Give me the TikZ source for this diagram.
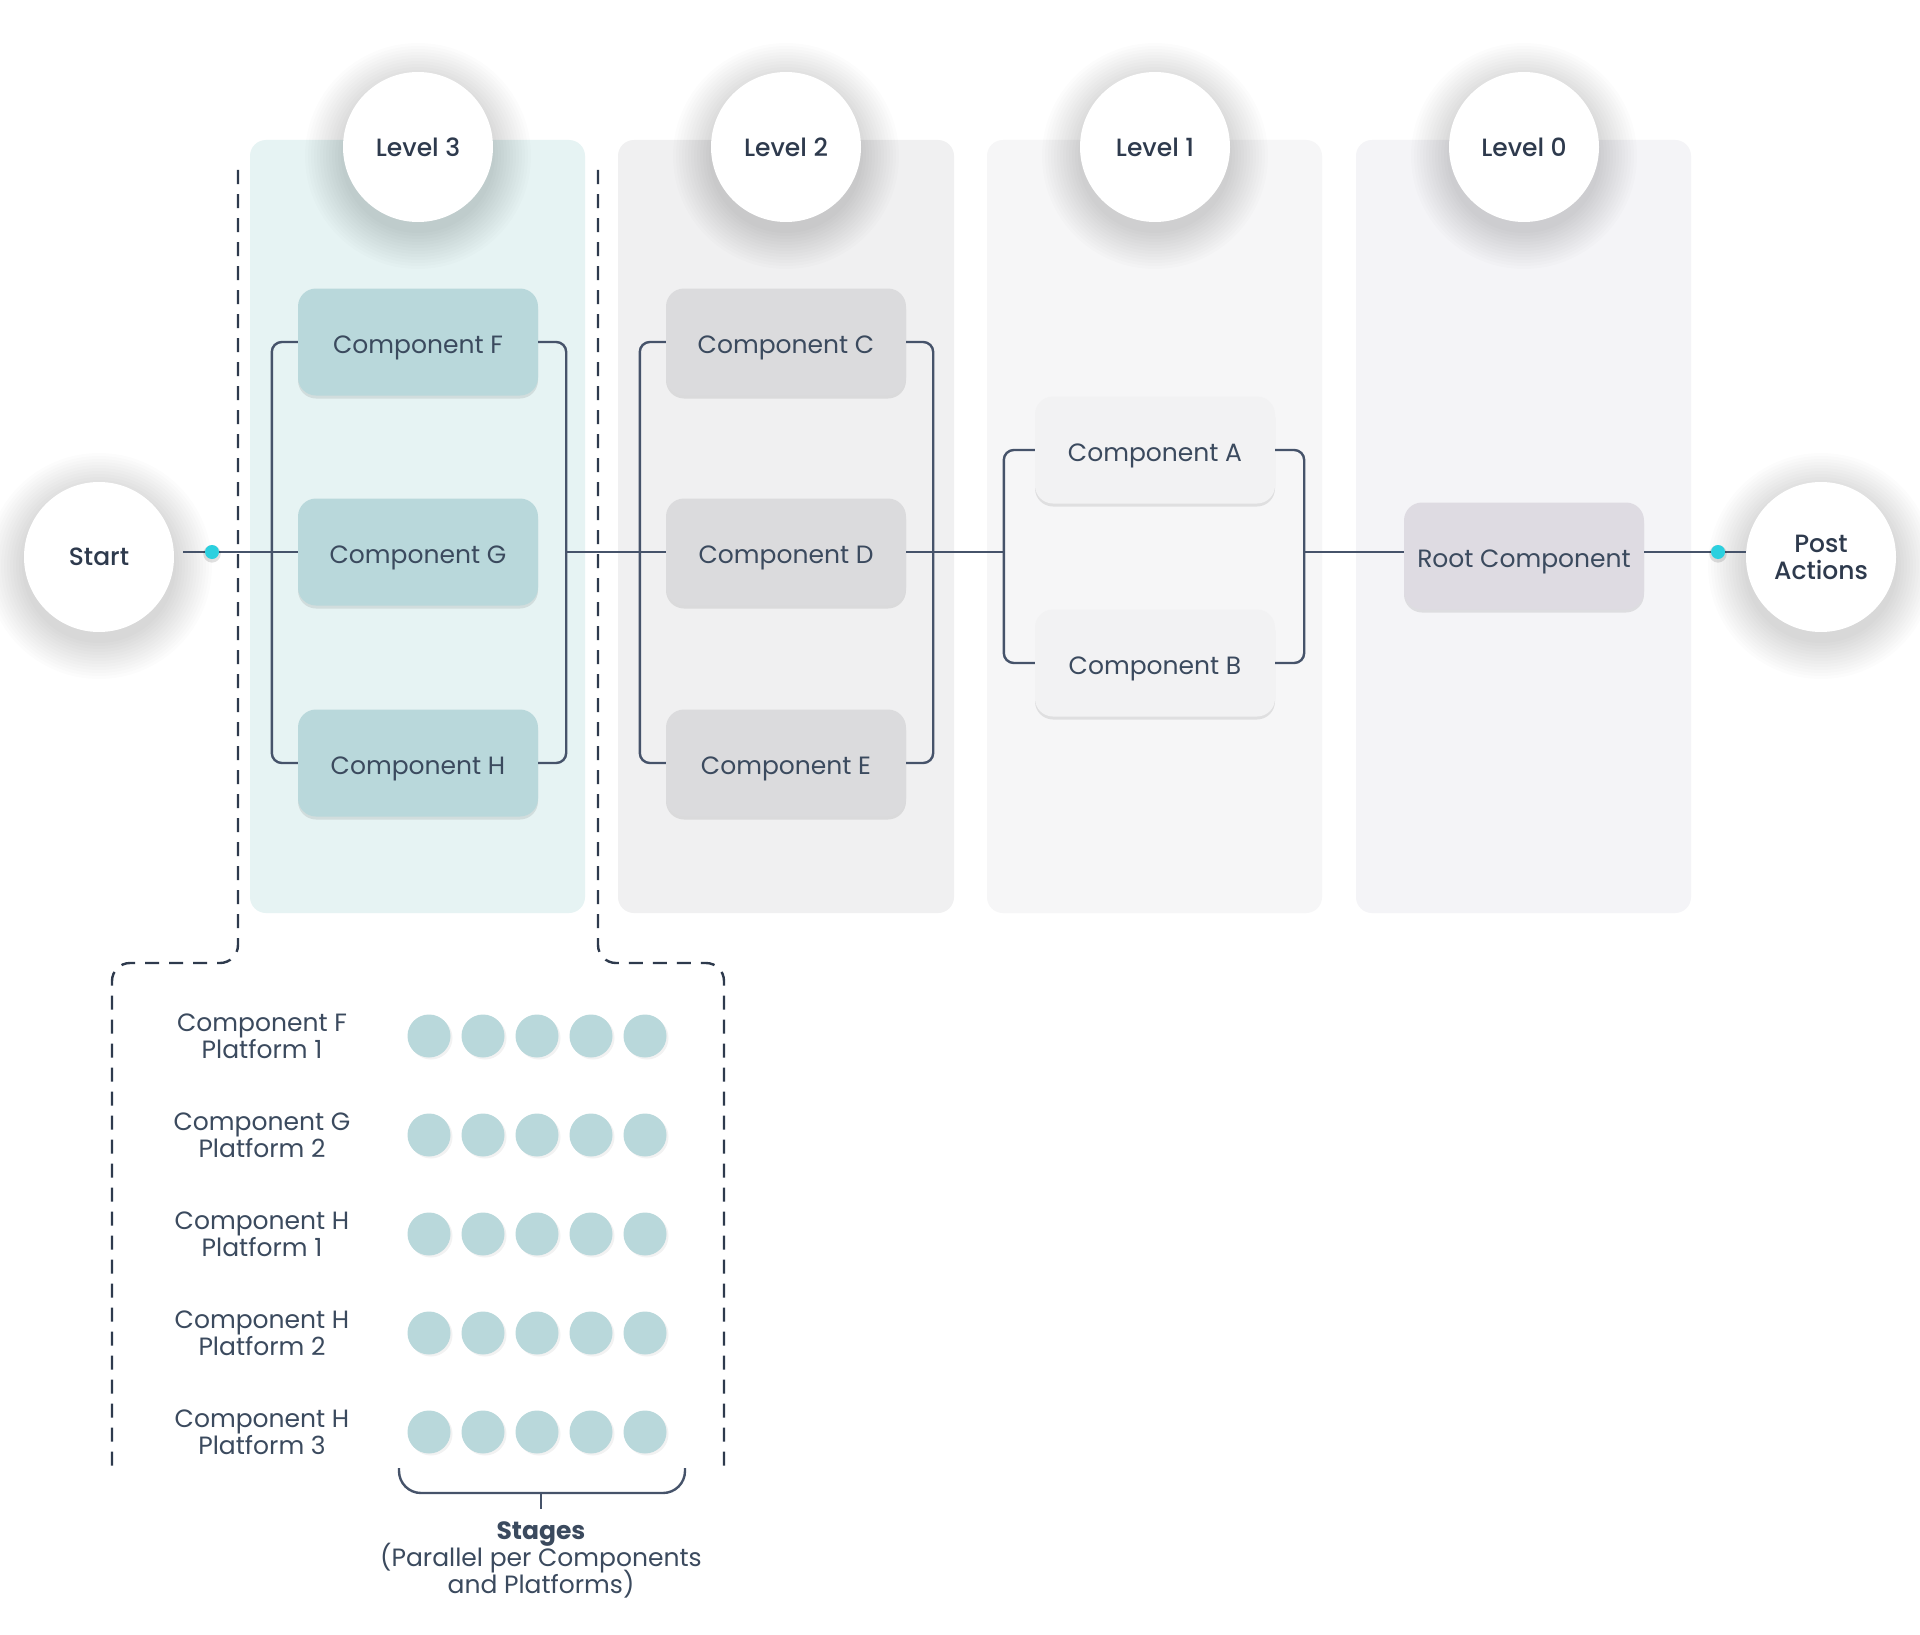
\documentclass[tikz,border=0pt]{standalone}
\usepackage{fontspec}
\setmainfont{Poppins}
\IfFontExistsTF{Poppins Medium}{\newfontfamily\medfont{Poppins Medium}}{\newfontfamily\medfont{Poppins}}
\usetikzlibrary{shadows}
\definecolor{txt}{HTML}{3B4A5E}
\definecolor{txtdark}{HTML}{2E3A4D}
\definecolor{linec}{HTML}{46536A}
\definecolor{panelthree}{HTML}{E6F3F3}
\definecolor{boxthree}{HTML}{B9D8DB}
\definecolor{paneltwo}{HTML}{F0F0F1}
\definecolor{boxtwo}{HTML}{DBDBDD}
\definecolor{panelone}{HTML}{F6F6F7}
\definecolor{boxone}{HTML}{F2F2F3}
\definecolor{panelzero}{HTML}{F4F4F7}
\definecolor{boxzero}{HTML}{DEDBE2}
\definecolor{cyanc}{HTML}{2BD0DF}
\newcommand{\fs}{\fontsize{25}{27}\selectfont\lineskiplimit=-30pt\relax}
\newcommand{\softshadow}[2]{\foreach \r in {77,80,...,113}{\fill[black, opacity=0.011] (#1,#2+9) circle[radius=\r];}}
\begin{document}
\begin{tikzpicture}[x=1pt,y=-1pt,
  panel/.style={fill=#1, rounded corners=16},
  comp/.style={rounded corners=18, minimum width=240, minimum height=107, inner sep=0,
    text=txt, font=\fs, fill=#1, text height=23pt, text depth=0pt,
    general shadow={shadow xshift=0pt, shadow yshift=-3pt, fill=black, opacity=0.09}},
  lvl/.style={circle, fill=white, minimum size=150, inner sep=0, align=center,
    font=\medfont\fs, text=txtdark},
  conn/.style={draw=linec, line width=2.4pt},
  dashc/.style={draw=txtdark, line width=2.4pt, dash pattern=on 14pt off 10pt, rounded corners=18},
  cdot/.style={circle, fill=cyanc, minimum size=14, inner sep=0,
    general shadow={shadow scale=1.25, shadow xshift=0pt, shadow yshift=-1.5pt, fill=black, opacity=0.12}},
  sdot/.style={circle, fill=boxthree, minimum size=43, inner sep=0,
    general shadow={shadow xshift=2pt, shadow yshift=-2pt, fill=black, opacity=0.05}},
  lab/.style={align=center, font=\fs, text=txt, inner sep=0}
]
\useasboundingbox[fill=white] (0,0) rectangle (1920,1635);

% panels
\path[panel=panelthree] (250,140) rectangle (585,913);
\path[panel=paneltwo] (618,140) rectangle (954,913);
\path[panel=panelone] (987,140) rectangle (1322,913);
\path[panel=panelzero] (1356,140) rectangle (1691,913);

% dashed callout
\draw[dashc] (238,170) -- (238,963) -- (112,963) -- (112,1469);
\draw[dashc] (598,170) -- (598,963) -- (724,963) -- (724,1469);

% components
\node[comp=boxthree] (F) at (418,342) {Component F};
\node[comp=boxthree] (G) at (418,552) {Component G};
\node[comp=boxthree] (H) at (418,763) {Component H};
\node[comp=boxtwo] (C) at (786,342) {Component C};
\node[comp=boxtwo] (D) at (786,552) {Component D};
\node[comp=boxtwo] (E) at (786,763) {Component E};
\node[comp=boxone] (A) at (1155,450) {Component A};
\node[comp=boxone] (B) at (1155,663) {Component B};
\node[comp=boxzero] (R) at (1524,556) {Root Component};

% soft shadows of the circles
\softshadow{418}{147}
\softshadow{786}{147}
\softshadow{1155}{147}
\softshadow{1524}{147}
\softshadow{99}{557}
\softshadow{1821}{557}

% level circles
\node[lvl] (L3) at (418,147) {Level 3};
\node[lvl] (L2) at (786,147) {Level 2};
\node[lvl] (L1) at (1155,147) {Level 1};
\node[lvl] (L0) at (1524,147) {Level 0};

% start / post
\node[lvl] (S) at (99,557) {Start};
\node[lvl] (P) at (1821,557) {Post\\Actions};

% coordinates
\coordinate (s0) at (183,552);
\coordinate (b3r) at (567,552);
\coordinate (b1l) at (1004,552);
\coordinate (b1r) at (1305,552);
\coordinate (pe) at (1746,552);

% brackets
\draw[conn, rounded corners=10] (F.west) -- ++(-26,0) |- (H.west);
\draw[conn, rounded corners=10] (F.east) -- ++(28,0) |- (H.east);
\draw[conn, rounded corners=10] (C.west) -- ++(-26,0) |- (E.west);
\draw[conn, rounded corners=10] (C.east) -- ++(27,0) |- (E.east);
\draw[conn, rounded corners=10] (A.west) -- ++(-31,0) |- (B.west);
\draw[conn, rounded corners=10] (A.east) -- ++(29,0) |- (B.east);

% main line
\draw[conn] (s0) -- (G.west);
\draw[conn] (b3r) -- (D.west);
\draw[conn] (D.east) -- (b1l);
\draw[conn] (b1r) -- (b1r -| R.west);
\draw[conn] (b1r -| R.east) -- (pe);

% dots
\node[cdot] (d1) at (212,552) {};
\node[cdot] (d2) at (1718,552) {};

% stage rows
\foreach \i/\t/\yy in {1/{Component F\\Platform 1}/1036, 2/{Component G\\Platform 2}/1135, 3/{Component H\\Platform 1}/1234, 4/{Component H\\Platform 2}/1333, 5/{Component H\\Platform 3}/1432}{
  \node[lab] (lab\i) at (262,\yy) {\t};
  \foreach \j/\xx in {1/429, 2/483, 3/537, 4/591, 5/645}{
    \node[sdot] (s\i\j) at (\xx,\yy) {};
  }
}

% brace
\draw[conn, rounded corners=22] (399,1468) -- (399,1493) -- (685,1493) -- (685,1468);
\coordinate (bt) at (541,1493);
\coordinate (bb) at (541,1509);
\draw[conn] (bt) -- (bb);
\node[lab] (stg) at (541,1560) {\textbf{Stages}\\(Parallel per Components\\and Platforms)};
\end{tikzpicture}
\end{document}
